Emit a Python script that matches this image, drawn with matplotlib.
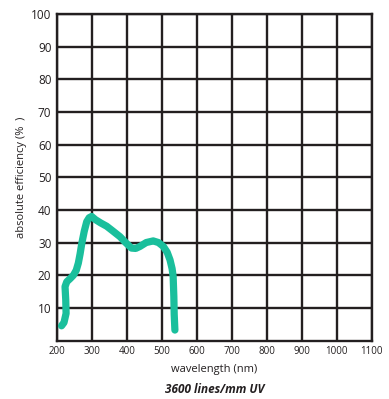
import matplotlib
matplotlib.use("Agg")
import matplotlib.pyplot as plt

plt.rcParams['font.family'] = ['Open Sans', 'DejaVu Sans']

# Efficiency curve of the 3600 lines/mm UV grating
wavelength_nm = [213, 220, 226, 225, 223, 228, 238, 247, 255, 261, 266, 271, 278,
                 285, 292, 299, 310, 325, 342, 360, 380, 398, 413, 425, 437,
                 455, 475, 490, 504, 515, 523, 529, 532, 534, 535, 537]
efficiency_pct = [4.5, 5.5, 8.3, 12.5, 16.5, 18.0, 19.0, 20.0, 21.5, 23.7, 26.5, 29.8, 33.5,
                  36.4, 37.6, 38.0, 37.0, 36.0, 35.0, 33.5, 31.8, 29.8, 28.3, 28.2, 28.8,
                  30.0, 30.5, 30.0, 28.8, 27.0, 24.7, 22.0, 19.6, 13.4, 8.0, 3.2]

x_ticks = [200, 300, 400, 500, 600, 700, 800, 900, 1000, 1100]
y_ticks = [10, 20, 30, 40, 50, 60, 70, 80, 90, 100]

ink = '#231f20'
teal = '#1abf9c'

fig = plt.figure(figsize=(3.89, 3.99), dpi=100)
ax = fig.add_axes([0.1465, 0.1466, 0.8095, 0.8184])

ax.set_xlim(200, 1100)
ax.set_ylim(0, 100)
ax.set_xticks(x_ticks)
ax.set_yticks(y_ticks)
ax.set_xticklabels([str(v) for v in x_ticks], fontsize=7, color=ink)
ax.set_yticklabels([str(v) for v in y_ticks], fontsize=8.5, color=ink)
ax.tick_params(length=0, pad=4)

ax.grid(True, color=ink, linewidth=1.7)
ax.set_axisbelow(True)
for s in ax.spines.values():
    s.set_color(ink)
    s.set_linewidth(1.7)

ax.plot(wavelength_nm, efficiency_pct, color=teal, linewidth=5.2,
        solid_capstyle='round', solid_joinstyle='round', zorder=3)

ax.set_xlabel('wavelength (nm)', fontsize=8, color=ink, labelpad=5)
ax.set_ylabel('absolute efficiency (%  )', fontsize=8, color=ink, labelpad=3)

fig.text(0.553, 0.016, '3600 lines/mm UV', fontsize=8.5, fontweight='bold',
         fontstyle='italic', color=ink, ha='center')

fig.savefig('out.png', dpi=100)
